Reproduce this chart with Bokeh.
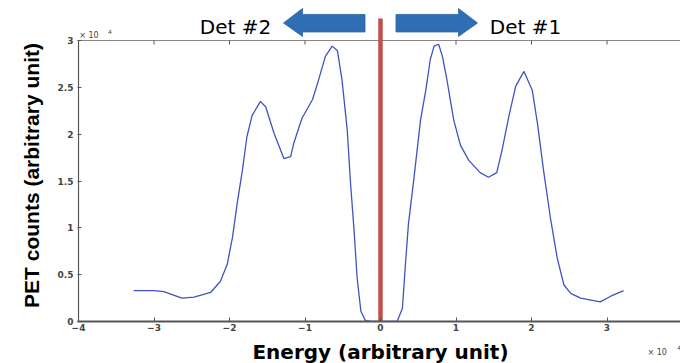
import numpy as np
from bokeh.plotting import figure
from bokeh.layouts import row, column
from bokeh.models import Range1d, FixedTicker, NumeralTickFormatter
from bokeh.core.properties import value
from bokeh.embed import file_html
from bokeh.resources import INLINE

# Energy in units of 10^? (as labelled), counts in units of 10^4
energy = [-3.27, -3.00, -2.87, -2.63, -2.47, -2.25, -2.12, -2.03, -1.96, -1.90,
          -1.83, -1.77, -1.70, -1.59, -1.52, -1.41, -1.28, -1.19, -1.15, -1.04,
          -0.90, -0.82, -0.73, -0.64, -0.57, -0.51, -0.44, -0.40, -0.35, -0.31,
          -0.26, -0.20, -0.12, 0.00, 0.12, 0.22, 0.29, 0.33, 0.37, 0.44,
          0.53, 0.60, 0.66, 0.71, 0.77, 0.82, 0.88, 0.97, 1.06, 1.17,
          1.32, 1.43, 1.54, 1.61, 1.70, 1.79, 1.90, 2.01, 2.08, 2.16,
          2.25, 2.34, 2.43, 2.52, 2.65, 2.91, 3.05, 3.22]
counts = [0.33, 0.33, 0.32, 0.25, 0.26, 0.31, 0.43, 0.61, 0.90, 1.25,
          1.61, 1.97, 2.20, 2.35, 2.29, 2.01, 1.74, 1.76, 1.90, 2.17,
          2.37, 2.58, 2.83, 2.94, 2.89, 2.58, 2.04, 1.51, 0.97, 0.47,
          0.11, 0.01, 0.00, 0.00, 0.00, 0.00, 0.14, 0.61, 1.04, 1.51,
          2.15, 2.47, 2.80, 2.94, 2.96, 2.83, 2.58, 2.15, 1.88, 1.72,
          1.59, 1.54, 1.59, 1.83, 2.19, 2.51, 2.67, 2.47, 2.11, 1.61,
          1.11, 0.68, 0.39, 0.30, 0.25, 0.21, 0.27, 0.33]

x_ticks = [-4, -3, -2, -1, 0, 1, 2, 3, 4]
y_ticks = [0, 0.5, 1, 1.5, 2, 2.5, 3]
detectors = ["Det #2", "Det #1"]
detector_x = [-1.92, 1.92]
x_title = "Energy (arbitrary unit)"
y_title = "PET counts (arbitrary unit)"

X_LEFT = -4.0
Y_TOP = 3.0
PX_X = 75.5          # pixels per energy unit
PX_Y = 281.0 / 3.0   # pixels per count unit
TITLE_W = 50         # width of the strip holding the count-axis title
FRAME_L = 77         # left edge of the plotting box
FRAME_B = 321        # bottom edge of the plotting box
TOTAL_W, TOTAL_H = 680, 363
TICK_STRIP = 14      # room for the energy tick labels
TICK_FONT = "DejaVu Sans"
TICK_COLOR = "#444444"

x_range = Range1d(X_LEFT - 1.0 / PX_X, (TOTAL_W - 380) / PX_X)

# ---- main plotting area (box plus headroom for the arrows) ----
p = figure(width=TOTAL_W - TITLE_W, height=FRAME_B + TICK_STRIP,
           output_backend="svg", toolbar_location=None,
           x_range=x_range, y_range=Range1d(0, FRAME_B / PX_Y),
           min_border_left=FRAME_L - TITLE_W, min_border_right=0,
           min_border_top=0, min_border_bottom=TICK_STRIP)
p.outline_line_color = None
p.grid.visible = False
p.background_fill_color = "white"
p.border_fill_color = "white"

xa = p.xaxis[0]
xa.ticker = FixedTicker(ticks=x_ticks)
xa.axis_line_color = "#555555"
xa.axis_line_width = 2
xa.major_tick_in = 4
xa.major_tick_out = 0
xa.major_tick_line_color = "#555555"
xa.minor_tick_line_color = None
xa.major_label_standoff = 2
xa.major_label_text_font = TICK_FONT
xa.major_label_text_font_style = "bold"
xa.major_label_text_font_size = "9px"
xa.major_label_text_color = TICK_COLOR

ya = p.yaxis[0]
ya.ticker = FixedTicker(ticks=y_ticks)
ya.formatter = NumeralTickFormatter(format="0.[0]")
ya.axis_line_color = None
ya.major_tick_in = 4
ya.major_tick_out = 0
ya.major_tick_line_color = "#555555"
ya.minor_tick_line_color = None
ya.major_label_standoff = 4
ya.major_label_text_font = TICK_FONT
ya.major_label_text_font_style = "bold"
ya.major_label_text_font_size = "9px"
ya.major_label_text_color = TICK_COLOR

# box: left line and top line with inward ticks
p.segment(x0=X_LEFT, y0=0, x1=X_LEFT, y1=Y_TOP, line_color="#555555", line_width=1.2)
p.segment(x0=x_range.start, y0=Y_TOP, x1=x_range.end, y1=Y_TOP,
          line_color="#888888", line_width=1)
inner = x_ticks[1:-1]
p.segment(x0=inner, y0=[Y_TOP] * len(inner), x1=inner,
          y1=[Y_TOP - 4 / PX_Y] * len(inner), line_color="#555555", line_width=1)

# spectrum
p.line(energy, counts, line_color="#4053c2", line_width=1.3)

# separator between the two detectors
p.segment(x0=0, y0=0, x1=0, y1=3.235, line_color="#c0504d", line_width=4.5)

# direction arrows
y_hi, y_sh_hi, y_mid, y_sh_lo, y_lo = 3.342, 3.278, 3.187, 3.091, 3.043
tip, base, shaft = 1.285, 1.033, 0.205
arrow_xs = [[-tip, -base, -base, -shaft, -shaft, -base, -base],
            [shaft, base, base, tip, base, base, shaft]]
arrow_ys = [[y_mid, y_hi, y_sh_hi, y_sh_hi, y_sh_lo, y_sh_lo, y_lo],
            [y_sh_hi, y_sh_hi, y_hi, y_mid, y_lo, y_sh_lo, y_sh_lo]]
p.patches(arrow_xs, arrow_ys, fill_color="#2f6eb5", line_color="#2a64a6", line_width=0.8)

p.text(x=detector_x, y=[3.139, 3.139], text=detectors,
       text_font=value("DejaVu Sans"), text_font_size="20px",
       text_align="center", text_baseline="middle", text_color="black")

# multiplier above the count axis
p.text(x=[X_LEFT + 0.01], y=[3.05], text=["\u00d7 10"], text_font=value(TICK_FONT),
       text_font_size="8px", text_align="left", text_baseline="middle", text_color=TICK_COLOR)
p.text(x=[-3.61], y=[3.10], text=["4"], text_font=value(TICK_FONT),
       text_font_size="6px", text_align="left", text_baseline="middle", text_color=TICK_COLOR)

# ---- strip under the box: energy title and multiplier ----
b = figure(width=TOTAL_W - TITLE_W, height=TOTAL_H - FRAME_B - TICK_STRIP,
           output_backend="svg", toolbar_location=None,
           x_range=x_range,
           y_range=Range1d(-(TOTAL_H - FRAME_B) / PX_Y, -TICK_STRIP / PX_Y),
           x_axis_location=None, y_axis_location=None,
           min_border_left=FRAME_L - TITLE_W, min_border_right=0,
           min_border_top=0, min_border_bottom=0)
b.outline_line_color = None
b.grid.visible = False
b.text(x=[0], y=[-0.325], text=[x_title], text_font=value("DejaVu Sans"),
       text_font_style="bold", text_font_size="20px", text_align="center",
       text_baseline="middle", text_color="black")
b.text(x=[3.536], y=[-0.331], text=["\u00d7 10"], text_font=value(TICK_FONT),
       text_font_size="8px", text_align="left", text_baseline="middle", text_color=TICK_COLOR)
b.text(x=[3.93], y=[-0.278], text=["4"], text_font=value(TICK_FONT),
       text_font_size="6px", text_align="left", text_baseline="middle", text_color=TICK_COLOR)

# ---- strip left of the box: count-axis title ----
t = figure(width=TITLE_W, height=TOTAL_H, output_backend="svg", toolbar_location=None,
           x_range=Range1d(0, TITLE_W),
           y_range=Range1d(-(TOTAL_H - FRAME_B) / PX_Y, FRAME_B / PX_Y),
           x_axis_location=None, y_axis_location=None,
           min_border_left=0, min_border_right=0, min_border_top=0, min_border_bottom=0)
t.outline_line_color = None
t.grid.visible = False
t.text(x=[30.5], y=[1.559], text=[y_title], angle=np.pi / 2,
       text_font=value("Liberation Sans"), text_font_style="bold", text_font_size="21px",
       text_align="center", text_baseline="middle", text_color="black")

layout = row(t, column(p, b))
open("out.html", "w").write(file_html(layout, INLINE))
